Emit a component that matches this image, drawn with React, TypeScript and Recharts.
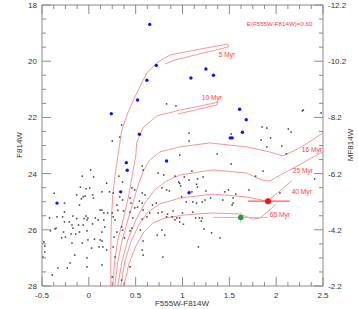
import React from 'react';
import { ComposedChart, XAxis, YAxis, Scatter, Line, ErrorBar } from 'recharts';

const xTicks = [-0.5, -0.375, -0.25, -0.125, 0, 0.125, 0.25, 0.375, 0.5, 0.625, 0.75, 0.875, 1, 1.125, 1.25, 1.375, 1.5, 1.625, 1.75, 1.875, 2, 2.125, 2.25, 2.375, 2.5];
const yTicks = [18, 18.5, 19, 19.5, 20, 20.5, 21, 21.5, 22, 22.5, 23, 23.5, 24, 24.5, 25, 25.5, 26, 26.5, 27, 27.5, 28];
const yRightTicks = [-12.2, -11.7, -11.2, -10.7, -10.2, -9.7, -9.2, -8.7, -8.2, -7.7, -7.2, -6.7, -6.2, -5.7, -5.2, -4.7, -4.2, -3.7, -3.2, -2.7, -2.2];

const fieldStarPairs: [number, number][] = [
  [0.83, 21.52], [0.93, 21.59], [0.35, 22.27], [0.25, 22.84], [0.33, 22.70],
  [2.29, 21.74], [2.48, 21.84], [1.85, 22.34], [1.90, 22.38], [2.13, 22.41], [2.16, 22.52], [1.07, 22.56], [1.52, 22.59], [1.84, 22.80], [1.94, 22.73], [1.07, 22.84], [2.06, 23.02], [1.90, 23.05], [0.97, 23.34], [1.37, 23.30], [2.11, 23.30],
  [1.52, 23.66], [1.10, 23.91], [1.22, 24.12], [1.78, 24.09], [2.41, 24.19], [1.86, 23.91], [2.04, 24.69], [1.02, 24.12], [0.97, 24.35], [1.15, 24.38], [1.16, 24.48], [1.16, 24.19], [1.07, 24.23], [0.99, 24.83], [1.04, 25.01], [1.11, 25.01], [1.21, 25.01], [1.24, 24.94], [1.43, 24.94], [1.49, 24.58], [1.45, 24.65], [1.57, 24.73], [1.54, 25.05], [1.53, 25.12], [1.71, 24.58], [1.30, 24.87], [1.10, 24.65], [1.25, 24.62], [1.54, 24.87], [1.15, 25.05], [1.11, 25.37], [1.00, 25.40], [1.18, 25.58], [1.14, 25.58], [1.21, 25.58], [0.97, 25.58], [1.20, 25.69], [1.01, 25.80], [1.23, 25.97], [1.31, 26.11], [1.40, 26.29], [1.17, 26.61],
  [0.74, 23.98], [0.80, 24.05], [0.92, 24.09], [0.32, 24.09], [0.36, 24.30], [0.57, 23.73], [0.58, 23.87], [0.96, 24.30], [0.98, 24.44], [0.78, 24.51], [0.83, 24.58], [0.86, 24.62], [0.46, 24.51], [0.49, 24.58], [0.57, 24.69], [0.60, 24.76], [0.26, 24.69], [0.33, 24.83], [0.36, 24.94], [0.44, 24.87], [0.45, 25.05], [0.54, 24.98], [0.57, 25.05], [0.52, 25.19], [0.49, 25.22], [0.68, 25.12], [0.72, 25.05], [0.30, 25.12], [0.31, 25.30], [0.37, 25.33], [0.44, 25.37], [0.58, 25.30], [0.65, 25.40], [0.74, 25.40], [0.78, 25.37], [0.90, 25.33], [0.84, 25.44], [0.94, 25.58], [0.26, 25.54], [0.47, 25.58], [0.62, 25.54],
  [0.57, 25.62], [0.83, 25.54], [0.89, 25.54], [0.97, 25.72], [0.92, 25.65], [0.78, 26.01], [0.81, 26.19], [0.73, 26.19], [0.55, 26.01], [0.46, 25.94], [0.44, 26.04], [0.36, 26.01], [0.35, 25.90], [0.30, 26.08], [0.28, 25.65], [0.27, 26.26], [0.38, 26.29], [0.58, 26.40], [0.57, 26.72], [0.58, 26.90], [0.79, 26.97], [0.44, 27.32], [0.26, 26.61], [0.28, 26.97], [0.25, 27.68], [0.35, 27.79],
  [0.02, 23.87], [-0.07, 24.09], [0.05, 24.12], [-0.09, 24.48], [0.01, 24.51], [-0.13, 24.76], [-0.06, 24.83], [0.04, 24.76], [0.05, 24.87], [0.14, 24.65], [0.19, 24.34], [0.22, 24.65], [-0.37, 24.70], [-0.26, 25.05], [-0.26, 25.37], [-0.10, 25.12], [0.14, 25.30], [0.16, 25.40], [-0.03, 25.51], [-0.01, 25.58], [-0.17, 25.51], [-0.42, 25.58], [-0.34, 25.54], [-0.28, 25.54], [0.07, 25.58], [0.25, 25.40],
  [-0.26, 25.72], [-0.21, 25.72], [-0.13, 25.60], [-0.05, 25.60], [-0.02, 25.65], [-0.06, 25.83], [-0.11, 25.83], [-0.18, 25.83], [0.04, 25.79], [0.10, 25.65], [0.16, 25.65], [0.17, 25.90], [0.14, 26.08], [-0.02, 26.04], [-0.10, 26.08], [-0.35, 25.94], [-0.41, 26.04], [-0.25, 26.26], [-0.29, 26.29], [-0.19, 26.15], [-0.14, 26.15], [-0.18, 26.47], [-0.07, 26.47], [-0.01, 26.36], [0.06, 26.33], [0.14, 26.40], [0.15, 26.61], [0.03, 26.65], [-0.48, 26.43], [-0.47, 26.58], [-0.15, 26.90], [-0.02, 27.00], [0.14, 27.25], [-0.20, 27.18], [-0.23, 27.36], [-0.33, 27.36], [-0.39, 27.61], [-0.49, 26.97],
  [-0.47, 26.79], [-0.04, 24.80], [-0.08, 24.90], [0.12, 25.30], [0.20, 25.40], [-0.17, 25.94], [-0.36, 25.97], [-0.27, 26.08], [0.12, 26.36], [0.11, 26.61], [0.19, 26.72], [-0.02, 27.32], [-0.03, 24.54], [2.28, 21.77],
];

const blueStarPairs: [number, number][] = [
  [0.65, 18.69], [0.72, 20.15], [0.62, 20.68], [0.52, 21.38], [0.24, 21.87], [0.54, 22.60],
  [1.25, 20.28], [1.09, 20.60], [1.33, 20.50], [1.61, 21.71], [1.68, 22.08], [1.64, 22.53], [1.51, 22.73], [1.53, 22.73],
  [0.40, 23.61], [0.41, 23.88], [0.34, 24.65], [-0.34, 25.05], [0.83, 23.55], [1.07, 24.68],
];

const iso5Pairs: [number, number][] = [[0.235, 28.0], [0.235, 26.72], [0.24, 25.65], [0.256, 24.76], [0.288, 23.87], [0.32, 23.16], [0.352, 22.45], [0.416, 21.84], [0.512, 21.13], [0.619, 20.42], [0.726, 20.06], [0.864, 19.78], [1.185, 19.57], [1.483, 19.39], [1.494, 19.49], [1.185, 19.74], [0.918, 19.96], [0.811, 20.10]];
const iso10Pairs: [number, number][] = [[0.256, 28.0], [0.277, 27.08], [0.309, 26.37], [0.373, 25.55], [0.427, 24.76], [0.47, 23.94], [0.502, 23.34], [0.512, 22.88], [0.576, 22.38], [0.726, 21.95], [0.971, 21.74], [1.185, 21.6], [1.377, 21.46], [1.366, 21.56], [1.131, 21.74], [0.95, 21.88]];
const iso16Pairs: [number, number][] = [[0.277, 28.0], [0.309, 27.15], [0.352, 26.43], [0.416, 25.65], [0.48, 24.94], [0.534, 24.33], [0.587, 23.87], [0.651, 23.52], [0.758, 23.23], [0.971, 23.05], [1.291, 22.91], [1.686, 23.05], [1.932, 23.23], [2.07, 23.37], [2.252, 23.09], [2.497, 22.56]];
const iso25Pairs: [number, number][] = [[0.309, 28.0], [0.352, 27.15], [0.416, 26.36], [0.502, 25.65], [0.598, 25.05], [0.704, 24.58], [0.832, 24.26], [0.971, 24.05], [1.323, 23.87], [1.686, 23.98], [1.846, 24.23], [1.932, 24.26], [2.145, 23.87], [2.359, 23.48], [2.497, 23.23]];
const iso40Pairs: [number, number][] = [[0.342, 28.0], [0.384, 27.15], [0.448, 26.43], [0.534, 25.83], [0.63, 25.37], [0.758, 25.08], [0.971, 24.87], [1.323, 24.73], [1.686, 24.83], [1.9, 24.98], [2.017, 24.69], [2.166, 24.26]];
const iso65Pairs: [number, number][] = [[0.374, 28.0], [0.427, 27.22], [0.502, 26.58], [0.587, 26.08], [0.683, 25.76], [0.811, 25.58], [1.025, 25.47], [1.323, 25.4], [1.612, 25.44], [1.75, 25.62], [1.825, 25.58], [1.932, 25.3], [1.996, 25.08]];

const redStar = [{ x: 1.913, y: 24.98, ex: [0.213, 0.232] }];
const greenStar = [{ x: 1.622, y: 25.56, ex: [0.295, 0.291], ey: [0.17, 0.19] }];

const annotations = [
  { x: 1.686, y: 18.75, label: 'E(F555W-F814W)=0.60' },
  { x: 1.387, y: 19.85, label: '5 Myr' },
  { x: 1.206, y: 21.38, label: '10 Myr' },
  { x: 2.273, y: 23.23, label: '16 Myr' },
  { x: 2.177, y: 23.98, label: '25 Myr' },
  { x: 2.166, y: 24.73, label: '40 Myr' },
  { x: 1.932, y: 25.54, label: '65 Myr' },
];

const toPts = (a: [number, number][]) => a.map(([x, y]) => ({ x, y }));
const fieldStars = toPts(fieldStarPairs);
const blueStars = toPts(blueStarPairs);
const isochrones = [iso5Pairs, iso10Pairs, iso16Pairs, iso25Pairs, iso40Pairs, iso65Pairs].map(toPts);

const FONT = 'Liberation Sans, Arial, sans-serif';
const AX = '#8a8a8a';
const TXT = '#333';
const RED_LINE = '#f58a8a';
const RED_TXT = '#ff3b3b';

const near = (v: number) => Math.abs(v - Math.round(v)) < 1e-6;
const isMajorX = (v: number) => near(v * 2);
const isMajorL = (v: number) => near(v / 2);
const isMajorR = (v: number) => near((v + 12.2) / 2);

const BottomTick = (p: any) => {
  const v = p.payload.value;
  const m = isMajorX(v);
  return (
    <g>
      <line x1={p.x} y1={p.y} x2={p.x} y2={p.y - (m ? 9 : 4)} stroke={AX} />
      {m && (
        <text x={p.x} y={p.y + 12} textAnchor="middle" fontSize={8} fill={TXT} fontFamily={FONT}>
          {String(v)}
        </text>
      )}
    </g>
  );
};
const TopTick = (p: any) => {
  const v = p.payload.value;
  const m = isMajorX(v);
  return <line x1={p.x} y1={p.y} x2={p.x} y2={p.y + (m ? 9 : 4)} stroke={AX} />;
};
const LeftTick = (p: any) => {
  const v = p.payload.value;
  const m = isMajorL(v);
  return (
    <g>
      <line x1={p.x} y1={p.y} x2={p.x + (m ? 9 : 4)} y2={p.y} stroke={AX} />
      {m && (
        <text x={p.x - 5} y={p.y + 3} textAnchor="end" fontSize={8} fill={TXT} fontFamily={FONT}>
          {String(v)}
        </text>
      )}
    </g>
  );
};
const RightTick = (p: any) => {
  const v = p.payload.value;
  const m = isMajorR(v);
  return (
    <g>
      <line x1={p.x} y1={p.y} x2={p.x - (m ? 9 : 4)} y2={p.y} stroke={AX} />
      {m && (
        <text x={p.x + 5} y={p.y + 3} textAnchor="start" fontSize={8} fill={TXT} fontFamily={FONT}>
          {v.toFixed(1)}
        </text>
      )}
    </g>
  );
};

const FieldDot = (p: any) => <rect x={p.cx - 0.75} y={p.cy - 0.75} width={1.5} height={1.5} fill="#3a3a3a" />;
const BlueDot = (p: any) => <circle cx={p.cx} cy={p.cy} r={1.7} fill="#0a14ff" />;
const RedDot = (p: any) => <circle cx={p.cx} cy={p.cy} r={3} fill="#ff1010" />;
const GreenDot = (p: any) => <circle cx={p.cx} cy={p.cy} r={2.7} fill="#1f9a45" />;
const AnnText = (p: any) => {
  const lab = (p.payload && p.payload.label) || p.label;
  const big = lab.startsWith('E(');
  return (
    <text x={p.cx} y={p.cy} fontSize={big ? 6.2 : 6.6} fill={RED_TXT} fontFamily={FONT}>
      {lab}
    </text>
  );
};

export default function App() {
  return (
    <div style={{ position: 'absolute', left: 0, top: 0, width: 358, height: 309, background: '#fff' }}>
      <ComposedChart width={358} height={309} margin={{ top: 0, right: 0, bottom: 0, left: 0 }}>
        <XAxis xAxisId="b" dataKey="x" type="number" domain={[-0.5, 2.5]} allowDataOverflow ticks={xTicks} interval={0}
          tickSize={0} tickMargin={0} tickLine={false} axisLine={{ stroke: AX }} tick={<BottomTick />} height={23} orientation="bottom" />
        <XAxis xAxisId="t" dataKey="x" type="number" domain={[-0.5, 2.5]} allowDataOverflow ticks={xTicks} interval={0}
          tickSize={0} tickMargin={0} tickLine={false} axisLine={{ stroke: AX }} tick={<TopTick />} height={5} orientation="top" />
        <YAxis yAxisId="l" dataKey="y" type="number" domain={[18, 28]} reversed allowDataOverflow ticks={yTicks} interval={0}
          tickSize={0} tickMargin={0} tickLine={false} axisLine={{ stroke: AX }} tick={<LeftTick />} width={42} orientation="left" />
        <YAxis yAxisId="r" type="number" domain={[-12.2, -2.2]} reversed allowDataOverflow ticks={yRightTicks} interval={0}
          tickSize={0} tickMargin={0} tickLine={false} axisLine={{ stroke: AX }} tick={<RightTick />} width={35} orientation="right" />

        <Scatter data={fieldStars} xAxisId="b" yAxisId="l" shape={<FieldDot />} isAnimationActive={false} />
        {isochrones.map((d, i) => (
          <Line key={i} data={d} dataKey="y" xAxisId="b" yAxisId="l" type="linear" dot={false} activeDot={false}
            stroke={RED_LINE} strokeWidth={0.9} isAnimationActive={false} />
        ))}
        <Scatter data={blueStars} xAxisId="b" yAxisId="l" shape={<BlueDot />} isAnimationActive={false} />
        <Scatter data={greenStar} xAxisId="b" yAxisId="l" shape={<GreenDot />} isAnimationActive={false}>
          <ErrorBar dataKey="ex" direction="x" width={0} stroke="#9fd69f" strokeWidth={1} />
          <ErrorBar dataKey="ey" direction="y" width={0} stroke="#9fd69f" strokeWidth={1} />
        </Scatter>
        <Scatter data={redStar} xAxisId="b" yAxisId="l" shape={<RedDot />} isAnimationActive={false}>
          <ErrorBar dataKey="ex" direction="x" width={0} stroke="#ff3030" strokeWidth={1} />
        </Scatter>
        <Scatter data={annotations} xAxisId="b" yAxisId="l" shape={<AnnText />} isAnimationActive={false} />
      </ComposedChart>
      <svg width={358} height={309} style={{ position: 'absolute', left: 0, top: 0, pointerEvents: 'none' }}>
        <text x={182} y={306} textAnchor="middle" fontSize={8} fill={TXT} fontFamily={FONT}>F555W-F814W</text>
        <text x={22} y={145} textAnchor="middle" fontSize={8} fill={TXT} fontFamily={FONT} transform="rotate(-90 22 145)">F814W</text>
        <text x={353} y={145} textAnchor="middle" fontSize={8} fill={TXT} fontFamily={FONT} transform="rotate(-90 353 145)">MF814W</text>
      </svg>
    </div>
  );
}
